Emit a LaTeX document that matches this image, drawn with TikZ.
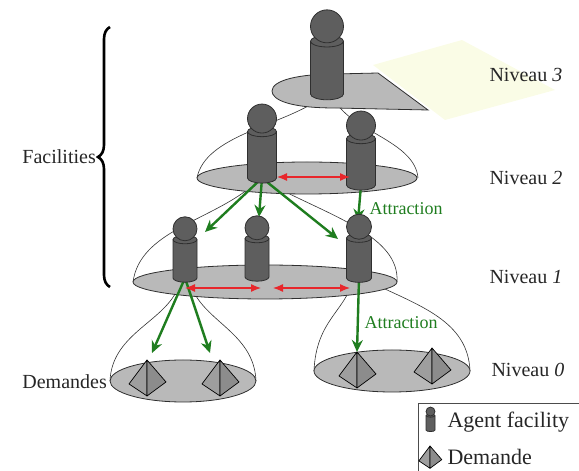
\documentclass[tikz,border=0pt]{standalone}
\usepackage{fontspec}
\setmainfont{Liberation Serif}
\usepackage{xcolor}
\usetikzlibrary{arrows.meta, decorations.pathreplacing}

\definecolor{discgray}{HTML}{B9B9B9}
\definecolor{agentgray}{HTML}{5E5E5E}
\definecolor{edgegray}{HTML}{2F2F2F}
\definecolor{pullgreen}{HTML}{1F7D1F}
\definecolor{pushred}{HTML}{E8262B}
\definecolor{planeyellow}{HTML}{FAFCE6}

% agent standing on coordinate #1, half width #2
\newcommand{\facility}[2]{%
  \begin{scope}[shift={(#1)}]
    \draw[agent] (-#2,{3.2*#2}) -- (-#2,0)
      arc[start angle=180, end angle=360, x radius=#2, y radius={0.35*#2}]
      -- (#2,{3.2*#2})
      arc[start angle=0, end angle=180, x radius=#2, y radius={0.35*#2}] -- cycle;
    \draw[agent, fill=none] (-#2,{3.2*#2})
      arc[start angle=180, end angle=360, x radius=#2, y radius={0.35*#2}];
    \draw[agent] (0,{4.1*#2}) circle[radius=#2];
  \end{scope}}

% pyramid with its apex on coordinate #2
\newcommand{\demand}[2][1]{%
  \begin{scope}[shift={(#2)}, scale=#1]
    \draw[faceleft] (0,0) -- (-18,-24) -- (0,-36) -- cycle;
    \draw[faceright] (0,0) -- (19,-22) -- (0,-36) -- cycle;
  \end{scope}}

\begin{document}
\begin{tikzpicture}[x=1pt, y=1pt,
    agent/.style={fill=agentgray, draw=edgegray, line width=0.8pt},
    disc/.style={fill=discgray, draw=edgegray, line width=0.8pt},
    bell/.style={draw=black!80, line width=0.6pt},
    faceleft/.style={fill=black!38, draw=black, line width=0.7pt, line join=round},
    faceright/.style={fill=black!45, draw=black, line width=0.7pt, line join=round},
    attract/.style={draw=pullgreen, line width=2.4pt, -{Stealth[length=12pt, width=11pt]}},
    rival/.style={draw=pushred, line width=1.2pt, {Latex[length=10pt, width=8pt]}-{Latex[length=10pt, width=8pt]}},
    level/.style={font=\fontsize{20}{24}\selectfont, text=black!85},
    keytext/.style={font=\fontsize{22}{26}\selectfont, text=black!85, anchor=west}]

    \useasboundingbox (0,0) rectangle (579,471);

    % where the agents and demands stand
    \coordinate (f3) at (327,377);
    \coordinate (f2l) at (262,293);
    \coordinate (f2r) at (361,286);
    \coordinate (f1l) at (185,193);
    \coordinate (f1m) at (257,194);
    \coordinate (f1r) at (359,193);
    \coordinate (fkey) at (430.5,41);
    \coordinate (d1) at (147,111);
    \coordinate (d2) at (220,111);
    \coordinate (d3) at (357,119);
    \coordinate (d4) at (432,123);
    \coordinate (dkey) at (430,25);

    % free ends of the attraction arrows
    \coordinate (pull1) at (205,239);
    \coordinate (pull2) at (259,254);
    \coordinate (pull3) at (338,232);
    \coordinate (pull4) at (358,250);
    \coordinate (pull5) at (152,118);
    \coordinate (pull6) at (210,118);

    % faint plane behind level 3
    \fill[planeyellow] (373,406) -- (462,431) -- (555,381) -- (445,351) -- cycle;

    % outlines of the zones
    \draw[bell] (197,293) .. controls (205,335) and (280,345) .. (318,371);
    \draw[bell] (418,293) .. controls (415,330) and (350,340) .. (335,371);
    \draw[bell] (133,189) .. controls (140,240) and (210,250) .. (252,285);
    \draw[bell] (270,287) .. controls (330,255) and (400,235) .. (397,189);
    \draw[bell] (110,90) .. controls (112,140) and (170,150) .. (180,189);
    \draw[bell] (256,90) .. controls (254,140) and (200,150) .. (190,189);
    \draw[bell] (314,100) .. controls (316,150) and (345,160) .. (352,189);
    \draw[bell] (470,100) .. controls (468,150) and (420,165) .. (370,189);

    % discs
    \draw[disc] (378,398) -- (428,361) -- (335,363)
      .. controls (290,363) and (272,371) .. (272,380)
      .. controls (272,391) and (300,397) .. (335,397) -- cycle;
    \draw[disc] (307,293) ellipse[x radius=110, y radius=16];
    \draw[disc] (265,189) ellipse[x radius=132, y radius=17];
    \draw[disc] (183,90) ellipse[x radius=73, y radius=21];
    \draw[disc] (392,100) ellipse[x radius=78, y radius=21];

    \demand{d1}
    \demand{d2}
    \demand{d3}
    \demand{d4}

    % attraction
    \draw[attract] (f2l) -- (pull1);
    \draw[attract] (f2l) -- (pull2);
    \draw[attract] (f2l) -- (pull3);
    \draw[attract] (f2r) -- (pull4);
    \draw[attract] (f1l) -- (pull5);
    \draw[attract] (f1l) -- (pull6);
    \draw[attract] (f1r) -- (d3);

    \facility{f3}{16.5}
    \facility{f2l}{14.5}
    \facility{f2r}{14.5}
    \facility{f1l}{12}
    \facility{f1m}{12}
    \facility{f1r}{12.5}

    % repulsion between agents of a level
    \draw[rival] ([xshift=15pt, yshift=1pt]f2l) -- ([xshift=-11pt, yshift=8pt]f2r);
    \draw[rival] ([yshift=-10pt]f1l) -- ([xshift=4pt, yshift=-11pt]f1m);
    \draw[rival] ([xshift=16pt, yshift=-11pt]f1m) -- ([xshift=-9pt, yshift=-10pt]f1r);

    \node[font=\fontsize{18}{21}\selectfont, text=pullgreen] (attr2) at (406,262) {Attraction};
    \node[font=\fontsize{18}{21}\selectfont, text=pullgreen] (attr1) at (401,148) {Attraction};

    % level names
    \node[level, anchor=west] (niv3) at (486,396) {Niveau \textit{3}};
    \node[level, anchor=west] (niv2) at (486,293) {Niveau \textit{2}};
    \node[level, anchor=west] (niv1) at (486,194) {Niveau \textit{1}};
    \node[level, anchor=west] (niv0) at (488,101) {Niveau \textit{0}};

    \draw[line width=2.6pt, decorate, decoration={brace, amplitude=12pt}] (110,184) -- (110,444);
    \node[level, anchor=east, inner sep=1pt] (facil) at (97,314) {Facilities};
    \node[level, anchor=east, inner sep=1pt] (dem) at (108,89) {Demandes};

    % key
    \draw[draw=black!70, line width=0.8pt] (579,68) -- (418,68) -- (418,0);
    \facility{fkey}{4.5}
    \demand[0.62]{dkey}
    \node[keytext] (keyagent) at (444,49) {Agent facility};
    \node[keytext] (keydem) at (444,14) {Demande};
\end{tikzpicture}
\end{document}
